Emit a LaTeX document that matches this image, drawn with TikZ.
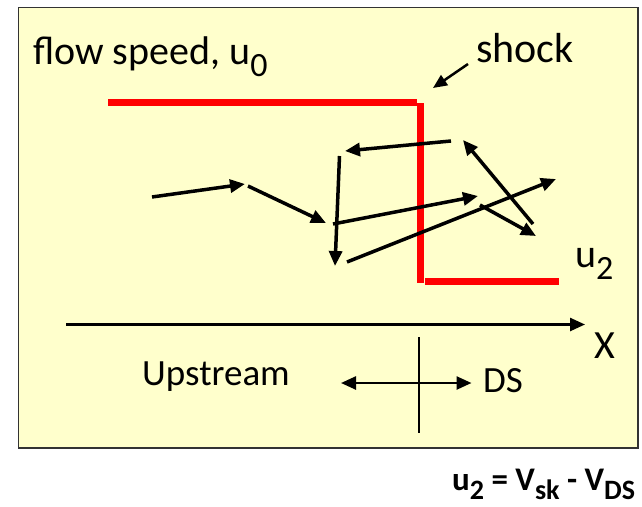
\documentclass[tikz,border=0pt]{standalone}
\usepackage{fontspec}
\setmainfont{Carlito}
\usetikzlibrary{arrows.meta}
\definecolor{boxfill}{HTML}{FFFFCC}
\definecolor{shockred}{HTML}{FF0000}
\newcommand{\sbs}[1]{\raisebox{-0.3em}{\scalebox{0.85}{#1}}}

\begin{document}
\begin{tikzpicture}[x=1pt,y=-1pt,
  big/.style={font=\fontsize{40}{42}\selectfont,inner sep=0pt,anchor=base west},
  mid/.style={font=\fontsize{37}{39}\selectfont,inner sep=0pt,anchor=base west},
  hop/.style={-{Triangle[length=15pt,width=13pt]},line width=3.5pt},
  axis/.style={-{Triangle[length=15pt,width=13pt]},line width=2.5pt}]

\useasboundingbox (0,0) rectangle (642,506);

% ---- panel ----
\draw[black!80,line width=1.6pt,fill=boxfill] (18.5,7.5) rectangle (638,448);

% ---- labels ----
\node[big] (title) at (33,64) {flow speed, u\sbs{0}};
\node[big,font=\fontsize{42}{44}\selectfont] (shock) at (476,62) {shock};
\node[big] (utwo) at (575,267) {u\sbs{2}};
\node[big] (xlab) at (594,358) {X};
\node[mid] (up) at (142,385) {Upstream};
\node[mid] (ds) at (483,392) {DS};
\node[mid,font=\fontsize{33}{35}\selectfont\bfseries] (eq) at (452,490)
  {u\sbs{2} = V\sbs{sk} - V\sbs{DS}};

% ---- shock front (red step) ----
\draw[shockred,line width=7pt] (108,102.5) -- (417,102.5);
\draw[shockred,line width=7pt] (420.5,103) -- (420.5,283);
\draw[shockred,line width=7pt] (425,281) -- (559,281);

% pointer to the shock
\coordinate (ptail) at (468,64);
\coordinate (ptip) at (433,88);
\draw[-{Triangle[length=14pt,width=12pt]},line width=2.5pt] (ptail) -- (ptip);

% ---- particle path (scattering across the shock) ----
\coordinate (p1) at (152,197);
\coordinate (p2) at (245,184);
\coordinate (p3) at (248,186);
\coordinate (p4) at (326,223);
\coordinate (p5) at (339.5,156);
\coordinate (p6) at (335,266);
\coordinate (p7) at (451,141);
\coordinate (p8) at (345,151);
\coordinate (p9) at (333,224);
\coordinate (p10) at (478,196);
\coordinate (p11) at (347,262);
\coordinate (p12) at (556,179);
\coordinate (p13) at (533,224);
\coordinate (p14) at (463,140);
\coordinate (p15) at (480,205);
\coordinate (p16) at (536,236);
\foreach \a/\b in {p1/p2,p3/p4,p5/p6,p7/p8,p9/p10,p11/p12,p13/p14,p15/p16}
  \draw[hop] (\a) -- (\b);

% ---- x axis ----
\coordinate (x0) at (66,324.5);
\coordinate (x1) at (585,324.5);
\draw[axis] (x0) -- (x1);

% shock position and frame directions
\coordinate (tk0) at (419,337);
\coordinate (tk1) at (419,433);
\draw[line width=1.5pt] (tk0) -- (tk1);
\coordinate (dl) at (341,383);
\coordinate (dr) at (471.5,383);
\draw[{Triangle[length=15pt,width=13pt]}-{Triangle[length=15pt,width=13pt]},line width=2.5pt] (dl) -- (dr);

\end{tikzpicture}
\end{document}
